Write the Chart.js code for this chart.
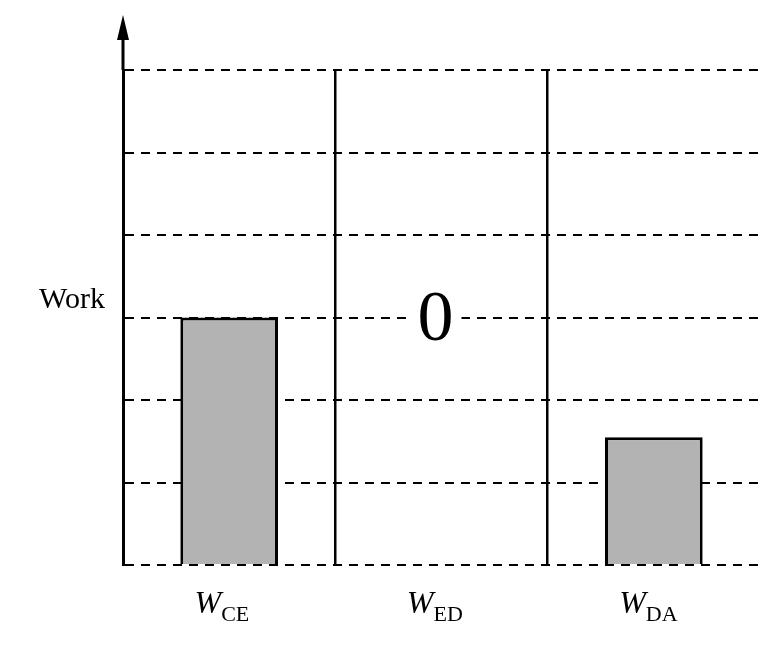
<!DOCTYPE html>
<html><head><script src="https://cdn.jsdelivr.net/npm/chart.js@4"></script>
<style>html,body{margin:0;padding:0;background:#fff}#w{width:775px;height:646px}</style></head>
<body><div id="w"><canvas id="c"></canvas></div>
<script>
const categories = ["CE", "ED", "DA"];
const workValues = [3, 0, 1.55];
const middleLabel = "0";
const axisTitle = "Work";

const deco = {
  id: 'deco',
  afterDraw(chart) {
    const {ctx, chartArea: a, scales: {x, y}} = chart;
    ctx.save();
    ctx.fillStyle = '#000'; ctx.strokeStyle = '#000';
    ctx.beginPath();
    ctx.moveTo(a.left, 15); ctx.lineTo(a.left - 6, 40); ctx.lineTo(a.left + 6, 40); ctx.closePath(); ctx.fill();
    ctx.lineWidth = 3; ctx.beginPath(); ctx.moveTo(a.left, 30); ctx.lineTo(a.left, a.top); ctx.stroke();
    ctx.font = '30px "Liberation Serif"'; ctx.textAlign = 'right'; ctx.textBaseline = 'middle';
    ctx.fillText(axisTitle, 105, 300);
    ctx.font = '72px "Liberation Serif"'; ctx.textAlign = 'center';
    const cx = x.getPixelForValue(1);
    ctx.fillStyle = '#fff'; ctx.fillRect(cx - 32, y.getPixelForValue(3) - 30, 52, 60);
    ctx.fillStyle = '#000'; ctx.fillText(middleLabel, cx - 6, y.getPixelForValue(3) + 4);
    categories.forEach((c, i) => {
      const px = x.getPixelForValue(i);
      ctx.font = 'italic 32px "Liberation Serif"'; ctx.textAlign = 'right'; ctx.textBaseline = 'alphabetic';
      ctx.fillText('W', px - 8, a.bottom + 48);
      ctx.font = '22px "Liberation Serif"'; ctx.textAlign = 'left';
      ctx.fillText(c, px - 8, a.bottom + 56);
    });
    ctx.restore();
  }
};

new Chart(document.getElementById('c'), {
  type: 'bar',
  data: { labels: categories, datasets: [{ data: workValues, backgroundColor: '#b3b3b3', borderColor: '#000', borderWidth: 3, categoryPercentage: 1, barPercentage: 0.46 }] },
  options: {
    responsive: true, maintainAspectRatio: false, animation: false,
    layout: { padding: { left: 123, right: 15, top: 70, bottom: 81 } },
    plugins: { legend: { display: false }, tooltip: { enabled: false } },
    scales: {
      x: { offset: true, ticks: { display: false }, border: { display: false },
           grid: { offset: true, drawTicks: false, lineWidth: 2.5, color: c => (c.index === 1 || c.index === 2) ? '#000' : 'rgba(0,0,0,0)' } },
      y: { min: 0, max: 6, ticks: { display: false, stepSize: 1 },
           border: { display: true, color: '#000', width: 3, dash: [9, 7] },
           grid: { drawTicks: false, color: '#000', lineWidth: 2 } }
    }
  },
  plugins: [deco]
});
</script>
</body></html>
